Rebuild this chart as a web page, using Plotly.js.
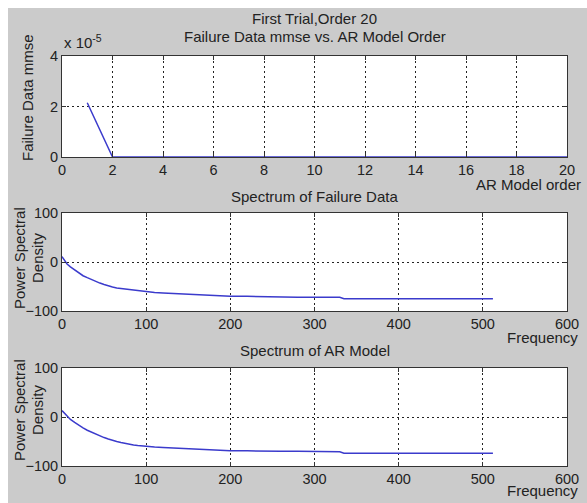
<!DOCTYPE html>
<html>
<head>
<meta charset="utf-8">
<script src="https://cdn.plot.ly/plotly-3.0.1.min.js"></script>
<style>
html,body{margin:0;padding:0;background:#ffffff;}
#chart{position:absolute;left:8px;top:8px;width:579px;height:495px;}
</style>
</head>
<body>
<div id="chart"></div>
<script>
// Top panel: mmse vs AR model order
const arOrder = [1,2,3,4,5,6,7,8,9,10,11,12,13,14,15,16,17,18,19,20];
const mmse = [2.15e-5,0,0,0,0,0,0,0,0,0,0,0,0,0,0,0,0,0,0,0];

// Middle panel: spectrum of failure data
const freqData = [0,3,6,10,15,20,25,30,35,40,45,50,55,60,65,70,75,80,85,90,95,100,110,120,130,140,150,160,170,180,190,200,220,240,260,280,300,320,330,335,360,400,440,480,512];
const psdData = [11,3,-4,-10,-16,-22,-28,-32,-36,-39,-43,-46,-49,-51,-53,-54,-56,-57,-58,-59,-59,-60,-62,-63,-64,-65,-66,-67,-67,-68,-69,-70,-70,-71,-71,-72,-72,-72,-72,-75,-75,-75,-75,-75,-75];

// Bottom panel: spectrum of AR model
const freqModel = [0,3,6,10,15,20,25,30,35,40,45,50,55,60,65,70,75,80,85,90,95,100,110,120,130,140,150,160,170,180,190,200,220,240,260,280,300,320,330,335,360,400,440,480,512];
const psdModel = [13,7,1,-5,-11,-17,-22,-27,-31,-35,-39,-42,-45,-48,-50,-52,-54,-56,-57,-58,-59,-60,-61,-62,-63,-64,-65,-66,-66,-67,-68,-69,-69,-70,-70,-70,-71,-71,-71,-74,-74,-74,-74,-74,-74];

const xTicks1 = [0,2,4,6,8,10,12,14,16,18,20];
const yTicks1 = [0,2e-5,4e-5];
const yTickText1 = ["0","2","4"];
const xTicksF = [0,100,200,300,400,500,600];
const yTicksP = [-100,0,100];

const lineColor = '#3b3bcc';
const fontFam = '"Liberation Sans", Arial, sans-serif';

function axBase(extra){
  return Object.assign({
    showline:true, mirror:'ticks', linecolor:'#333333', linewidth:1,
    ticks:'inside', ticklen:4, tickcolor:'#333333',
    showgrid:true, gridcolor:'#222222', gridwidth:1, griddash:'2px,3px',
    zeroline:false, tickfont:{family:fontFam, size:14.5, color:'#222222'},
    fixedrange:true
  }, extra);
}

const traces = [
  {x:arOrder, y:mmse, xaxis:'x', yaxis:'y', mode:'lines', line:{color:lineColor, width:1.5}, hoverinfo:'skip'},
  {x:freqData, y:psdData, xaxis:'x2', yaxis:'y2', mode:'lines', line:{color:lineColor, width:1.5}, hoverinfo:'skip'},
  {x:freqModel, y:psdModel, xaxis:'x3', yaxis:'y3', mode:'lines', line:{color:lineColor, width:1.5}, hoverinfo:'skip'}
];

const tf = {family:fontFam, size:15, color:'#222222'};
const P = (px) => (px-54)/505;      // div px -> paper x
const Q = (py) => (458-py)/410;     // div py -> paper y

const layout = {
  width:579, height:495,
  paper_bgcolor:'#cbcbcb', plot_bgcolor:'#ffffff',
  margin:{l:54, r:20, t:48, b:37},
  showlegend:false,
  xaxis: axBase({domain:[0,1], anchor:'y', range:[0,20], tickvals:xTicks1}),
  yaxis: axBase({domain:[0.7537,1], anchor:'x', range:[0,4e-5], tickvals:yTicks1, ticktext:yTickText1}),
  xaxis2: axBase({domain:[0,1], anchor:'y2', range:[0,600], tickvals:xTicksF}),
  yaxis2: axBase({domain:[0.378,0.6171], anchor:'x2', range:[-100,100], tickvals:yTicksP}),
  xaxis3: axBase({domain:[0,1], anchor:'y3', range:[0,600], tickvals:xTicksF}),
  yaxis3: axBase({domain:[0,0.239], anchor:'x3', range:[-100,100], tickvals:yTicksP}),
  annotations:[
    {text:'First Trial,Order 20', xref:'paper', yref:'paper', x:0.5, y:Q(11), xanchor:'center', yanchor:'middle', showarrow:false, font:tf},
    {text:'Failure Data mmse vs. AR Model Order', xref:'paper', yref:'paper', x:0.5, y:Q(29), xanchor:'center', yanchor:'middle', showarrow:false, font:tf},
    {text:'x 10<sup>-5</sup>', xref:'paper', yref:'paper', x:0, y:Q(34), xanchor:'left', yanchor:'middle', showarrow:false, font:tf},
    {text:'Failure Data mmse', xref:'paper', yref:'paper', x:P(19), y:Q(90), xanchor:'center', yanchor:'middle', textangle:-90, showarrow:false, font:tf},
    {text:'AR Model order', xref:'paper', yref:'paper', x:P(575), y:Q(177), xanchor:'right', yanchor:'middle', showarrow:false, font:tf},
    {text:'Spectrum of Failure Data', xref:'paper', yref:'paper', x:0.5, y:Q(188), xanchor:'center', yanchor:'middle', showarrow:false, font:tf},
    {text:'Power Spectral', xref:'paper', yref:'paper', x:P(11), y:Q(250), xanchor:'center', yanchor:'middle', textangle:-90, showarrow:false, font:tf},
    {text:'Density', xref:'paper', yref:'paper', x:P(29), y:Q(250), xanchor:'center', yanchor:'middle', textangle:-90, showarrow:false, font:tf},
    {text:'Frequency', xref:'paper', yref:'paper', x:P(572), y:Q(329), xanchor:'right', yanchor:'middle', showarrow:false, font:tf},
    {text:'Spectrum of AR Model', xref:'paper', yref:'paper', x:0.5, y:Q(342), xanchor:'center', yanchor:'middle', showarrow:false, font:tf},
    {text:'Power Spectral', xref:'paper', yref:'paper', x:P(11), y:Q(402), xanchor:'center', yanchor:'middle', textangle:-90, showarrow:false, font:tf},
    {text:'Density', xref:'paper', yref:'paper', x:P(29), y:Q(402), xanchor:'center', yanchor:'middle', textangle:-90, showarrow:false, font:tf},
    {text:'Frequency', xref:'paper', yref:'paper', x:P(572), y:Q(482), xanchor:'right', yanchor:'middle', showarrow:false, font:tf}
  ]
};

Plotly.newPlot('chart', traces, layout, {displayModeBar:false, staticPlot:true});
</script>
</body>
</html>
